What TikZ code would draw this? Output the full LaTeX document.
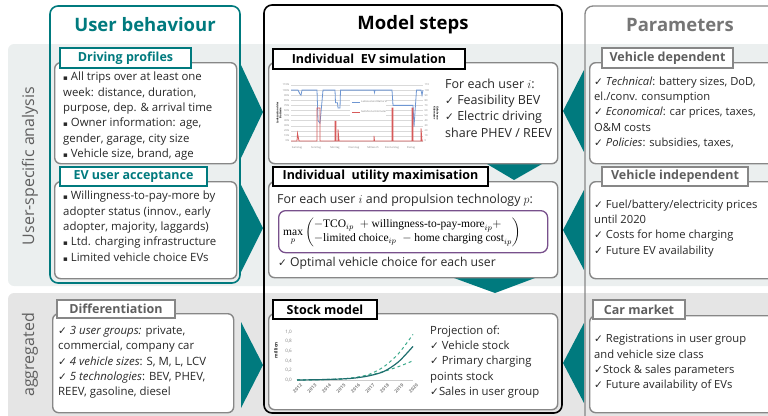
\documentclass[tikz,border=0pt]{standalone}
\usepackage{amsmath}
\usepackage{fontspec}
\setmainfont{Open Sans}
\newfontfamily\djv{DejaVu Sans}
\newfontfamily\fserif{Liberation Serif}
\definecolor{teal1}{RGB}{0,122,126}
\definecolor{bandA}{RGB}{235,239,239}
\definecolor{bandB}{RGB}{229,229,229}
\definecolor{gborder}{RGB}{135,135,135}
\definecolor{gtext}{RGB}{118,118,118}
\definecolor{gtab}{RGB}{95,95,95}
\definecolor{txt}{RGB}{40,40,40}
\definecolor{purp}{RGB}{120,80,140}
\definecolor{chblue}{RGB}{110,150,210}
\definecolor{chred}{RGB}{215,90,90}
\definecolor{stockdark}{RGB}{30,110,110}
\definecolor{stockgreen}{RGB}{60,170,140}
\newcommand\ck{{\djv\fontsize{10.5}{10.5}\selectfont ✓}}
\newcommand\sq{{\djv\fontsize{7}{7}\selectfont ▪}}
\tikzset{
  colframe/.style={rounded corners=8pt, line width=1.6pt},
  cbox/.style={draw=gborder, fill=white, rounded corners=6pt, line width=1.4pt, anchor=north west, inner sep=0pt},
  tabbox/.style={fill=white, line width=1.4pt, inner sep=0pt, font=\bfseries\fontsize{12.5}{14}\selectfont},
  txtblk/.style={anchor=north west, inner sep=0pt, align=left, text=txt, font=\fontsize{10.5}{15.3}\selectfont},
  lefttxt/.style={txtblk, font=\fontsize{11.4}{15.3}\selectfont},
  righttxt/.style={txtblk, font=\fontsize{11.2}{15.3}\selectfont},
  coltitle/.style={font=\bfseries\fontsize{18.5}{20}\selectfont, inner sep=0pt},
  sidelbl/.style={rotate=90, font=\fontsize{16}{16}\selectfont, text=gtab, inner sep=0pt},
  arrowfill/.style={fill=teal1},
  tiny/.style={font=\fontsize{2.6}{3}\selectfont, text=gray, inner sep=0pt},
  axl/.style={font=\fontsize{4.6}{5}\selectfont, text=gray, inner sep=0pt}
}
\begin{document}
\begin{tikzpicture}[x=1pt,y=-1pt]
\useasboundingbox (0,0) rectangle (768,415);
\clip (0,0) rectangle (768,415);
% bands
\fill[bandA, rounded corners=6pt] (8,44) rectangle (790,286);
\fill[bandB, rounded corners=6pt] (8,293) rectangle (790,430);
\node[sidelbl] (lua) at (30,166) {User-specific analysis};
\node[sidelbl] (lag) at (30,355) {aggregated};
% teal arrows
\fill[arrowfill] (241,65) -- (263,112) -- (241,158) -- cycle;
\fill[arrowfill] (241,185) -- (263,228) -- (241,272) -- cycle;
\fill[arrowfill] (241,322) -- (263,365) -- (241,408) -- cycle;
\fill[arrowfill] (584,70) -- (563,111) -- (584,152) -- cycle;
\fill[arrowfill] (584,190) -- (563,230) -- (584,270) -- cycle;
\fill[arrowfill] (584,323) -- (563,363) -- (584,403) -- cycle;
\fill[arrowfill] (487,164) -- (542,164) -- (514,180) -- cycle;
\fill[arrowfill] (454,278) -- (535,278) -- (495,293) -- cycle;
% column frames
\draw[colframe, teal1] (50,6) rectangle (240,283);
\draw[colframe, black] (264,5) rectangle (562,413);
\draw[colframe, gborder, line width=1.3pt] (585,6) rectangle (800,440);
\node[coltitle, text=teal1] (tub) at (145,25) {User behaviour};
\node[coltitle, text=black] (tms) at (413,25) {Model steps};
\node[coltitle, text=gtext] (tpar) at (680,25) {Parameters};
% content boxes
\node[cbox, minimum width=182pt, minimum height=101pt] (bdp) at (54,62) {};
\node[cbox, minimum width=182pt, minimum height=97pt] (bea) at (54,181) {};
\node[cbox, minimum width=181pt, minimum height=99pt] (bdf) at (52,313) {};
\node[cbox, minimum width=289pt, minimum height=101pt] (bev) at (268,62) {};
\node[cbox, minimum width=289pt, minimum height=96pt] (but) at (268,181) {};
\node[cbox, minimum width=289pt, minimum height=96pt] (bst) at (268,313) {};
\node[cbox, minimum width=200pt, minimum height=101pt] (bvd) at (589,62) {};
\node[cbox, minimum width=200pt, minimum height=97pt] (bvi) at (589,181) {};
\node[cbox, minimum width=200pt, minimum height=97pt] (bcm) at (589,315) {};
% tabs
\node[tabbox, draw=teal1, text=teal1, minimum width=131pt, minimum height=20pt] (tdp) at (125.5,58) {Driving profiles};
\node[tabbox, draw=teal1, text=teal1, minimum width=147pt, minimum height=19pt] (tea) at (133.5,176.5) {EV user acceptance};
\node[tabbox, draw=gborder, text=gtab, minimum width=118pt, minimum height=18pt] (tdf) at (116,309) {Differentiation};
\node[tabbox, draw=black, text=black, minimum width=192pt, minimum height=20pt] (tev) at (369,59) {Individual\ \ EV simulation};
\node[tabbox, draw=black, text=black, minimum width=215pt, minimum height=19pt] (tut) at (380.5,176.5) {Individual\ \ utility maximisation};
\node[tabbox, draw=black, text=black, minimum width=104pt, minimum height=19pt] (tst) at (325,309.5) {Stock model};
\node[tabbox, draw=gborder, text=gtab, minimum width=131pt, minimum height=20pt] (tvd) at (667.5,58) {Vehicle dependent};
\node[tabbox, draw=gborder, text=gtab, minimum width=146pt, minimum height=19pt] (tvi) at (675,176.5) {Vehicle independent};
\node[tabbox, draw=gborder, text=gtab, minimum width=92pt, minimum height=19pt] (tcm) at (639,309.5) {Car market};
% texts left
\node[lefttxt] (xdp) at (63,72) {\sq\ All trips over at least one\\ week: distance, duration,\\ purpose, dep. \& arrival time\\ \sq\ Owner information: age,\\ gender, garage, city size\\ \sq\ Vehicle size, brand, age};
\node[lefttxt] (xea) at (63,191) {\sq\ Willingness-to-pay-more by\\ adopter status (innov., early\\ adopter, majority, laggards)\\ \sq\ Ltd. charging infrastructure\\ \sq\ Limited vehicle choice EVs};
\node[lefttxt] (xdf) at (58,326) {\ck\ \textit{3 user groups:} private,\\ commercial, company car\\ \ck\ \textit{4 vehicle sizes}: S, M, L, LCV\\ \ck\ \textit{5 technologies}: BEV, PHEV,\\ REEV, gasoline, diesel};
% texts middle
\node[txtblk, font=\fontsize{12.5}{16.3}\selectfont] (xev) at (445,78.5) {For each user $i$:\\ \ck\ Feasibility BEV\\ \ck\ Electric driving\\ share PHEV / REEV};
\node[txtblk, font=\fontsize{12.4}{15}\selectfont] (xut) at (277,193.5) {For each user $i$ and propulsion technology $p$:};
\node[draw=purp, line width=1.3pt, rounded corners=7pt, minimum width=269pt, minimum height=42pt, anchor=north west, inner sep=0pt] (fbx) at (278,210) {};
\node[anchor=west, inner sep=0pt, font=\fserif\fontsize{11.5}{14}\selectfont] (fml) at (283,232) {$\mathop{\text{max}}\limits_{p}\left(\begin{array}{@{}l@{}}-\text{TCO}_{ip}\;+\text{willingness-to-pay-more}_{ip}+\\ -\text{limited choice}_{ip}\;-\text{home charging cost}_{ip}\end{array}\right)$};
\node[txtblk, font=\fontsize{12.2}{15}\selectfont] (xopt) at (278,256.5) {\ck\ Optimal vehicle choice for each user};
\node[txtblk, font=\fontsize{11.3}{15.3}\selectfont] (xst) at (430,325.5) {Projection of:\\ \ck\ Vehicle stock\\ \ck\ Primary charging\\ points stock\\ \ck Sales in user group};
% texts right
\node[righttxt] (xvd) at (594,76.5) {\ck\ \textit{Technical}: battery sizes, DoD,\\ el./conv. consumption\\ \ck\ \textit{Economical}: car prices, taxes,\\ O\&M costs\\ \ck\ \textit{Policies}: subsidies, taxes,};
\node[righttxt] (xvi) at (594,199.5) {\ck\ Fuel/battery/electricity prices\\ until 2020\\ \ck\ Costs for home charging\\ \ck\ Future EV availability};
\node[righttxt] (xcm) at (594,334.5) {\ck\ Registrations in user group\\ and vehicle size class\\ \ck Stock \& sales parameters\\ \ck\ Future availability of EVs};
% EV simulation chart
\begin{scope}[shift={(291,141)}, yscale=0.509]
\foreach \v in {0,10,...,110} {
  \draw[gray!30, line width=0.3pt] (0,-\v) -- (132,-\v);
  \node[tiny, anchor=east] at (-1.5,-\v) {\v\%};
  \node[tiny, anchor=west] at (133.5,-\v) {\v};
}
\draw[chblue, line width=0.8pt] (0,-100) -- (7,-100) -- (9,-92) -- (10,-90) -- (11,-100) -- (26,-100) -- (27,-40) -- (29,-35) -- (32,-100) -- (44,-100) -- (44.5,-75) -- (46.5,-75) -- (47,-65) -- (49,-65) -- (49.5,-100) -- (83,-100) -- (83.5,-95) -- (84,-100) -- (101,-100) -- (102,-70) -- (122,-70) -- (123,-28) -- (125.5,-100) -- (130,-100) -- (131,-90) -- (132,-100);
\draw[chred, line width=0.8pt] (0,0) -- (6,0) -- (6.5,-15) -- (7.5,-5) -- (8,0) -- (26,0) -- (26,-65) -- (29,-65) -- (29,0) -- (44,0) -- (44,-39) -- (45,-39) -- (45,0) -- (47,0) -- (47,-23) -- (48,0) -- (83,0) -- (83,-10) -- (83.5,0) -- (101,0) -- (101,-65) -- (102,-65) -- (102,0) -- (121,0) -- (121,-65) -- (122,-65) -- (122,0) -- (130,0) -- (130,-25) -- (131,0) -- (132,0);
\end{scope}
\node[tiny, rotate=90, font=\bfseries\fontsize{2.6}{3}\selectfont, text=black, align=center] (ylab1) at (279,113) {Ladezustand der\\ Batterie};
\node[tiny, rotate=-90, font=\bfseries\fontsize{2.6}{3}\selectfont, text=black, align=center] (ylab2) at (436,113) {Gefahrene\\ Kilometer};
\node[fill=white, minimum width=36pt, minimum height=18pt, inner sep=0pt] (leg) at (368,107) {};
\draw[chblue, line width=0.8pt] (352,102) -- (360,102);
\node[tiny, anchor=west] (leg1) at (361,102) {Ladezustand Batterie};
\draw[chred, line width=0.8pt] (352,112) -- (360,112);
\node[tiny, anchor=west] (leg2) at (361,112) {Gefahrene Kilometer};
\foreach \d [count=\k from 0] in {Samstag,Sonntag,Montag,Dienstag,Mittwoch,Donnerstag,Freitag}
  \node[tiny] at ({297+19*\k},148) {\d};
% stock chart
\draw[gray!40, line width=0.4pt] (297,380) -- (413,380);
\foreach \v/\lab [count=\k from 0] in {0/{0,0},0.2/{0,2},0.4/{0,4},0.6/{0,6},0.8/{0,8},1/{1,0}}
  \node[axl, anchor=east] at (292,{380-48*\v}) {\lab};
\node[axl, rotate=90, font=\bfseries\fontsize{4.6}{5}\selectfont, text=txt] (mil) at (276,350) {million};
\foreach \y [count=\k from 0] in {2012,...,2020}
  \node[axl, rotate=45, anchor=north east, font=\bfseries\fontsize{4.6}{5}\selectfont] at ({300+14.5*\k},383) {\y};
\draw[stockgreen, dashed, line width=1pt] plot[smooth] coordinates {(297,380) (311.5,379.8) (326,379.5) (340.5,379) (355,377.6) (369.5,374.2) (384,366.6) (398.5,353.6) (413,334.4)};
\draw[stockgreen, dashed, line width=1pt] plot[smooth] coordinates {(297,380) (311.5,379.8) (326,379.5) (340.5,379) (355,377.6) (369.5,375.2) (384,371.4) (398.5,366.6) (413,360.8)};
\draw[stockdark, line width=1.2pt] plot[smooth] coordinates {(297,380) (311.5,379.8) (326,379.5) (340.5,379) (355,378) (369.5,375.7) (384,371.4) (398.5,361.8) (413,346.4)};
\end{tikzpicture}
\end{document}
